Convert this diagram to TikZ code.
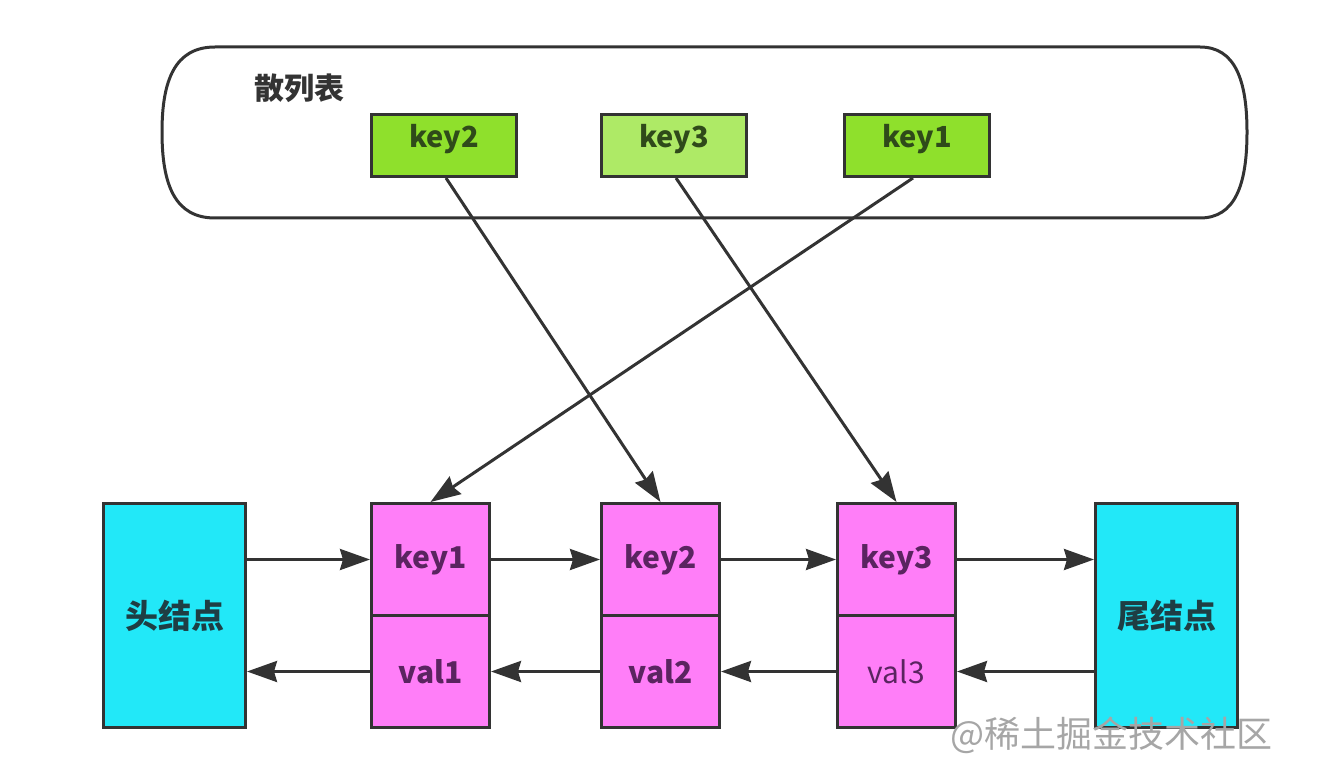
\documentclass[tikz,border=0pt]{standalone}
\usepackage{fontspec}
\setmainfont{Noto Sans CJK SC}
\newfontfamily\cjk{Noto Sans CJK SC}
\usetikzlibrary{arrows.meta}
\definecolor{lime}{HTML}{8FE02C}
\definecolor{limel}{HTML}{AEEA66}
\definecolor{pinkf}{HTML}{FF7EF8}
\definecolor{cyanf}{HTML}{22E8F8}
\definecolor{edge}{HTML}{333333}
\definecolor{gtext}{HTML}{2F4A1A}
\definecolor{ptext}{HTML}{5A2460}
\definecolor{ctext}{HTML}{1E3E44}
\tikzset{
  hkey/.style={draw=edge, line width=3pt, fill=lime, minimum width=145pt, minimum height=62pt, inner sep=0pt, anchor=north west, text=gtext, font=\cjk\bfseries\fontsize{29}{32}\selectfont, text height=22pt, text depth=18pt, align=center},
  cell/.style={draw=edge, line width=3pt, fill=pinkf, minimum width=118pt, minimum height=112pt, inner sep=0pt, anchor=north west, text=ptext, font=\cjk\bfseries\fontsize{30}{32}\selectfont},
  endbox/.style={draw=edge, line width=3pt, fill=cyanf, minimum width=142pt, minimum height=224pt, inner sep=0pt, anchor=north west, text=ctext, font=\cjk\bfseries\fontsize{33}{36}\selectfont},
  conn/.style={draw=edge, line width=3pt, -{Stealth[length=30pt,width=21pt,inset=3pt]}}
}
\begin{document}
\begin{tikzpicture}[x=1pt,y=-1pt]
\useasboundingbox (0,0) rectangle (1319,759);
% hash table container
\draw[edge, line width=3pt] (215,47) -- (1200,47)
  .. controls (1235,47) and (1247,80) .. (1247,132)
  .. controls (1247,185) and (1235,218) .. (1200,218)
  -- (215,218)
  .. controls (175,218) and (162,185) .. (162,132)
  .. controls (162,80) and (175,47) .. (215,47) -- cycle;
\node[anchor=west, text=edge, font=\cjk\bfseries\fontsize{30}{32}\selectfont, inner sep=0pt] (title) at (254,88) {散列表};
% top keys
\node[hkey] (hk2) at (370,113) {key2};
\node[hkey, fill=limel] (hk3) at (600,113) {key3};
\node[hkey] (hk1) at (843,113) {key1};
% bottom list
\node[endbox] (head) at (102,502) {头结点};
\node[cell] (k1) at (370,502) {key1};
\node[cell] (v1) at (370,614) {val1};
\node[cell] (k2) at (600,502) {key2};
\node[cell] (v2) at (600,614) {val2};
\node[cell] (k3) at (836,502) {key3};
\node[cell, font=\cjk\fontsize{30}{32}\selectfont] (v3) at (836,614) {val3};
\node[endbox] (tail) at (1094,502) {尾结点};
% forward arrows
\draw[conn] (head.east |- k1.center) -- (k1.west);
\draw[conn] (k1.east) -- (k2.west);
\draw[conn] (k2.east) -- (k3.west);
\draw[conn] (k3.east) -- (tail.west |- k3.center);
% backward arrows
\draw[conn] (v1.west) -- (head.east |- v1.center);
\draw[conn] (v2.west) -- (v1.east);
\draw[conn] (v3.west) -- (v2.east);
\draw[conn] (tail.west |- v3.center) -- (v3.east);
% hash pointers
\draw[conn] ([xshift=2pt]hk2.south) -- (k2.north);
\draw[conn] ([xshift=2pt]hk3.south) -- (k3.north);
\draw[conn] ([xshift=-4pt]hk1.south) -- (k1.north);
% watermark
\node[anchor=west, text=black!35, font=\cjk\fontsize{36}{38}\selectfont, inner sep=0pt] (wm) at (950,735) {@稀土掘金技术社区};
\end{tikzpicture}
\end{document}
